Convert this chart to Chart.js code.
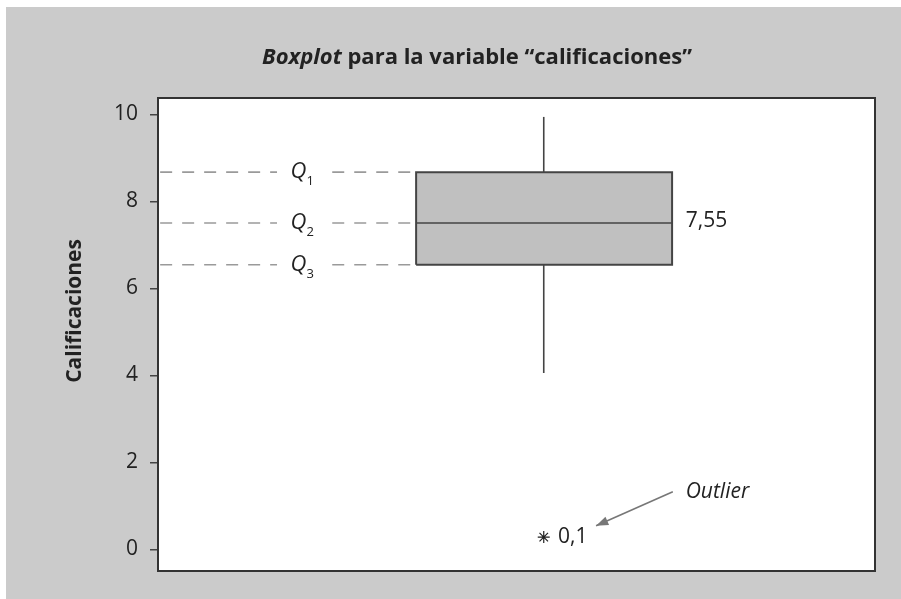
<!DOCTYPE html>
<html>
<head>
<meta charset="utf-8">
<script src="https://cdn.jsdelivr.net/npm/chart.js@4.4.0/dist/chart.umd.min.js"></script>
<style>
html,body{margin:0;padding:0;background:#fff}
canvas{display:block}
</style>
</head>
<body>
<canvas id="boxChart" width="901" height="599"></canvas>
<script>
// data
const yTicks = [0, 2, 4, 6, 8, 10];
const quartileSubs = ["1", "2", "3"];
const quartileValues = [8.67, 7.5, 6.54];
const whiskerValues = [4.05, 9.94];
const outlierValues = [0.28];
const medianText = "7,55";
const outlierText = "0,1";

// layout in x units (x scale runs 0..1 across the plot)
const boxLeft = 0.36, boxRight = 0.717, boxMid = 0.538;
const FONT = "'Open Sans'";
const INK = "#222";

const q1 = quartileValues[0], q2 = quartileValues[1], q3 = quartileValues[2];

function seg(x0, y0, x1, y1){
return [{x:x0, y:y0}, {x:x1, y:y1}];
}

function dashed(y){
return [{x:0.003, y:y}, {x:0.166, y:y}, {x:0.2, y:null}, {x:0.243, y:y}, {x:boxLeft, y:y}];
}

const lineStyle = {showLine:true, pointRadius:0, borderColor:"#444", borderWidth:1.6, fill:false};
const dashStyle = {showLine:true, pointRadius:0, borderColor:"#9a9a9a", borderWidth:1.6, borderDash:[12,10], fill:false, spanGaps:false};

const decor = {
id:"decor",
beforeDraw(chart){
const ctx = chart.ctx, a = chart.chartArea;
ctx.save();
ctx.fillStyle = "#cbcbcb";
ctx.fillRect(6, 7, chart.width - 6, chart.height - 7);
ctx.fillStyle = "#fff";
ctx.fillRect(a.left, a.top, a.right - a.left, a.bottom - a.top);
ctx.restore();
},
afterDraw(chart){
const ctx = chart.ctx, a = chart.chartArea;
const xs = chart.scales.x, ys = chart.scales.y;
ctx.save();

// plot frame
ctx.strokeStyle = "#333";
ctx.lineWidth = 2;
ctx.strokeRect(a.left, a.top, a.right - a.left, a.bottom - a.top);

// title
ctx.fillStyle = INK;
ctx.textBaseline = "alphabetic";
ctx.textAlign = "left";
const t1 = "Boxplot", t2 = " para la variable \u201Ccalificaciones\u201D";
ctx.font = "italic bold 22px " + FONT;
const w1 = ctx.measureText(t1).width;
ctx.font = "bold 22px " + FONT;
const w2 = ctx.measureText(t2).width;
let tx = 477 - (w1 + w2) / 2;
ctx.font = "italic bold 22px " + FONT;
ctx.fillText(t1, tx, 64);
ctx.font = "bold 22px " + FONT;
ctx.fillText(t2, tx + w1, 64);

// y title
ctx.save();
ctx.translate(a.left - 83, ys.getPixelForValue(5.48));
ctx.rotate(-Math.PI / 2);
ctx.textAlign = "center";
ctx.textBaseline = "middle";
ctx.font = "bold 21px " + FONT;
ctx.fillText("Calificaciones", 0, 0);
ctx.restore();

// quartile labels
quartileValues.forEach((v, i) => {
const px = xs.getPixelForValue(0.2), py = ys.getPixelForValue(v);
ctx.font = "italic 22px " + FONT;
ctx.textAlign = "center";
ctx.textBaseline = "middle";
ctx.fillText("Q", px - 3, py);
ctx.font = "13px " + FONT;
ctx.textAlign = "left";
ctx.fillText(quartileSubs[i], px + 5, py + 9);
});

// median value
ctx.font = "21px " + FONT;
ctx.textAlign = "left";
ctx.textBaseline = "middle";
ctx.fillText(medianText, xs.getPixelForValue(0.736), ys.getPixelForValue(q2) - 2);

// outlier label and arrow
ctx.fillText(outlierText, xs.getPixelForValue(0.558), ys.getPixelForValue(outlierValues[0]));
ctx.font = "italic 21px " + FONT;
ctx.fillText("Outlier", xs.getPixelForValue(0.736), ys.getPixelForValue(1.32));

const ax0 = xs.getPixelForValue(0.718), ay0 = ys.getPixelForValue(1.32);
const ax1 = xs.getPixelForValue(0.611), ay1 = ys.getPixelForValue(0.54);
ctx.strokeStyle = "#777";
ctx.fillStyle = "#777";
ctx.lineWidth = 1.6;
ctx.beginPath();
ctx.moveTo(ax0, ay0);
ctx.lineTo(ax1, ay1);
ctx.stroke();
const ang = Math.atan2(ay1 - ay0, ax1 - ax0);
ctx.beginPath();
ctx.moveTo(ax1, ay1);
ctx.lineTo(ax1 - 13 * Math.cos(ang - 0.35), ay1 - 13 * Math.sin(ang - 0.35));
ctx.lineTo(ax1 - 13 * Math.cos(ang + 0.35), ay1 - 13 * Math.sin(ang + 0.35));
ctx.closePath();
ctx.fill();

ctx.restore();
}
};

new Chart(document.getElementById("boxChart"), {
type:"scatter",
data:{
datasets:[
// outlier
{data:outlierValues.map(v => ({x:boxMid, y:v})), pointStyle:"star", pointRadius:6, borderColor:INK, borderWidth:1.2, showLine:false},
// median
Object.assign({data:seg(boxLeft, q2, boxRight, q2)}, lineStyle),
// box outline
Object.assign({data:[{x:boxLeft,y:q3},{x:boxLeft,y:q1},{x:boxRight,y:q1},{x:boxRight,y:q3},{x:boxLeft,y:q3}]}, lineStyle, {borderWidth:2}),
// whiskers
Object.assign({data:seg(boxMid, q1, boxMid, whiskerValues[1])}, lineStyle),
Object.assign({data:seg(boxMid, q3, boxMid, whiskerValues[0])}, lineStyle),
// dashed guides
Object.assign({data:dashed(q1)}, dashStyle),
Object.assign({data:dashed(q2)}, dashStyle),
Object.assign({data:dashed(q3)}, dashStyle),
// box fill
{data:seg(boxLeft, q1, boxRight, q1), showLine:true, pointRadius:0, borderWidth:0, borderColor:"rgba(0,0,0,0)", backgroundColor:"#c0c0c0", fill:{value:q3}}
]
},
options:{
responsive:false,
animation:false,
layout:{padding:{top:98, right:26, bottom:28, left:0}},
plugins:{legend:{display:false}, tooltip:{enabled:false}, title:{display:false}},
scales:{
x:{type:"linear", min:0, max:1, display:false},
y:{
min:-0.5, max:10.375,
afterFit(scale){ scale.width = 158; },
afterBuildTicks(scale){ scale.ticks = yTicks.map(v => ({value:v})); },
grid:{drawOnChartArea:false, drawTicks:true, tickLength:8, color:"#444", lineWidth:1.5},
border:{display:true, color:"#333", width:2},
ticks:{color:INK, padding:12, font:{family:"Open Sans", size:21}}
}
}
},
plugins:[decor]
});
</script>
</body>
</html>
